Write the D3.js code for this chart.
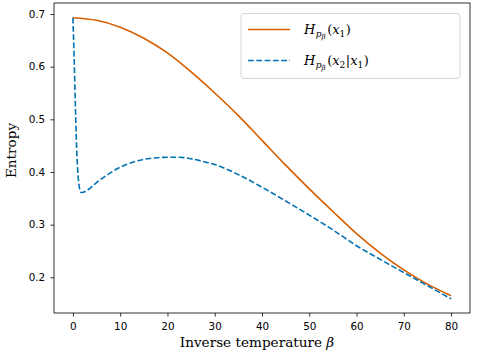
<!DOCTYPE html>
<html>
<head>
<meta charset="utf-8">
<script src="https://cdn.jsdelivr.net/npm/d3@7"></script>
<style>
  html, body { margin: 0; padding: 0; background: #fff; }
  svg { display: block; }
  .tick text { font-family: "DejaVu Sans", sans-serif; font-size: 10.4px; fill: #000; }
</style>
</head>
<body>
<svg id="chart" width="478" height="358"></svg>
<script>
// ---- data ----
const betaH1 = [0, 5, 10, 15, 20, 25, 30, 35, 40, 45, 50, 55, 60, 65, 70, 75, 80];
const valH1  = [0.693, 0.688, 0.675, 0.654, 0.626, 0.590, 0.550, 0.507, 0.460, 0.413, 0.368, 0.325, 0.283, 0.246, 0.214, 0.187, 0.165];

const betaH2 = [0, 0.25, 0.5, 0.75, 1, 1.25, 1.5, 1.75, 2, 3, 5, 7.5, 10, 12.5, 15, 17.5, 20, 22.5, 25, 27.5, 30, 35, 40, 45, 50, 55, 60, 65, 70, 75, 80];
const valH2  = [0.693, 0.62, 0.535, 0.455, 0.405, 0.378, 0.365, 0.361, 0.361, 0.365, 0.380, 0.396, 0.409, 0.418, 0.424, 0.427, 0.428, 0.428, 0.425, 0.420, 0.414, 0.395, 0.371, 0.345, 0.318, 0.290, 0.260, 0.234, 0.209, 0.184, 0.159];

const xTicks = [0, 10, 20, 30, 40, 50, 60, 70, 80];
const yTicks = [0.2, 0.3, 0.4, 0.5, 0.6, 0.7];

const xLabel = "Inverse temperature ";
const yLabel = "Entropy";

// ---- layout ----
const L = 54, R = 470, T = 3, B = 313;
const SERIF = "'DejaVu Serif', 'Liberation Serif', serif";
const svg = d3.select("#chart");

const x = d3.scaleLinear().domain([-4, 84]).range([L, R]);
const y = d3.scaleLinear().domain([0.1322, 0.7209]).range([B, T]);

const orange = "#d55e00", blue = "#0072b2";

const line = d3.line().x(d => x(d[0])).y(d => y(d[1])).curve(d3.curveMonotoneX);

const d1 = betaH1.map((b, i) => [b, valH1[i]]);
const d2 = betaH2.map((b, i) => [b, valH2[i]]);

svg.append("path").datum(d1).attr("d", line)
  .attr("fill", "none").attr("stroke", orange).attr("stroke-width", 1.6);
svg.append("path").datum(d2).attr("d", line)
  .attr("fill", "none").attr("stroke", blue).attr("stroke-width", 1.6)
  .attr("stroke-dasharray", "5.8,2.5");

// axes
const xAxis = d3.axisBottom(x).tickValues(xTicks).tickFormat(d3.format("d")).tickSize(3.6).tickPadding(6.5);
const yAxis = d3.axisLeft(y).tickValues(yTicks).tickFormat(d3.format(".1f")).tickSize(3.6).tickPadding(5.2);

const gx = svg.append("g").attr("transform", `translate(0,${B})`).call(xAxis);
const gy = svg.append("g").attr("transform", `translate(${L},0)`).call(yAxis);
[gx, gy].forEach(g => {
  g.select(".domain").remove();
  g.selectAll(".tick line").attr("stroke", "#000").attr("stroke-width", 0.8);
});

// frame
svg.append("rect").attr("x", L).attr("y", T).attr("width", R - L).attr("height", B - T)
  .attr("fill", "none").attr("stroke", "#000").attr("stroke-width", 0.8);

// axis labels
const xl = svg.append("text").attr("font-family", SERIF)
  .attr("x", 257).attr("y", 347).attr("text-anchor", "middle")
  .attr("font-size", 13.6).attr("fill", "#000");
xl.append("tspan").text(xLabel);
xl.append("tspan").attr("font-style", "italic").text("β");

svg.append("text").attr("font-family", SERIF)
  .attr("transform", `translate(15.5,150.5) rotate(-90)`)
  .attr("text-anchor", "middle").attr("font-size", 13.6).attr("fill", "#000")
  .text(yLabel);

// legend
const lg = svg.append("g");
lg.append("rect").attr("x", 241).attr("y", 13.5).attr("width", 219).attr("height", 65)
  .attr("rx", 3).attr("fill", "#fff").attr("fill-opacity", 0.8)
  .attr("stroke", "#cccccc").attr("stroke-width", 0.8);

const entries = [
  { color: orange, dash: null, sub: "1", cond: false },
  { color: blue, dash: "5.8,2.5", sub: "2", cond: true }
];
entries.forEach((e, i) => {
  const cy = 29.5 + i * 31;
  lg.append("line").attr("x1", 248).attr("x2", 290).attr("y1", cy).attr("y2", cy)
    .attr("stroke", e.color).attr("stroke-width", 1.6)
    .attr("stroke-dasharray", e.dash);
  const t = lg.append("text").attr("font-family", SERIF).attr("x", 304).attr("y", cy + 4.5)
    .attr("font-size", 13).attr("fill", "#000");
  t.append("tspan").attr("font-style", "italic").text("H");
  t.append("tspan").attr("font-style", "italic").attr("font-size", 9).attr("dy", 3).attr("dx", 0.5).text("p");
  t.append("tspan").attr("font-style", "italic").attr("font-size", 7).attr("dy", 2).text("β");
  t.append("tspan").attr("dy", -5).attr("dx", 1.5).text("(");
  t.append("tspan").attr("font-style", "italic").text("x");
  t.append("tspan").attr("font-size", 9).attr("dy", 3).text(e.sub);
  if (e.cond) {
    t.append("tspan").attr("dy", -3).attr("dx", 0.5).text("|");
    t.append("tspan").attr("font-style", "italic").text("x");
    t.append("tspan").attr("font-size", 9).attr("dy", 3).text("1");
  }
  t.append("tspan").attr("dy", -3).attr("dx", 0.5).text(")");
});
</script>
</body>
</html>
